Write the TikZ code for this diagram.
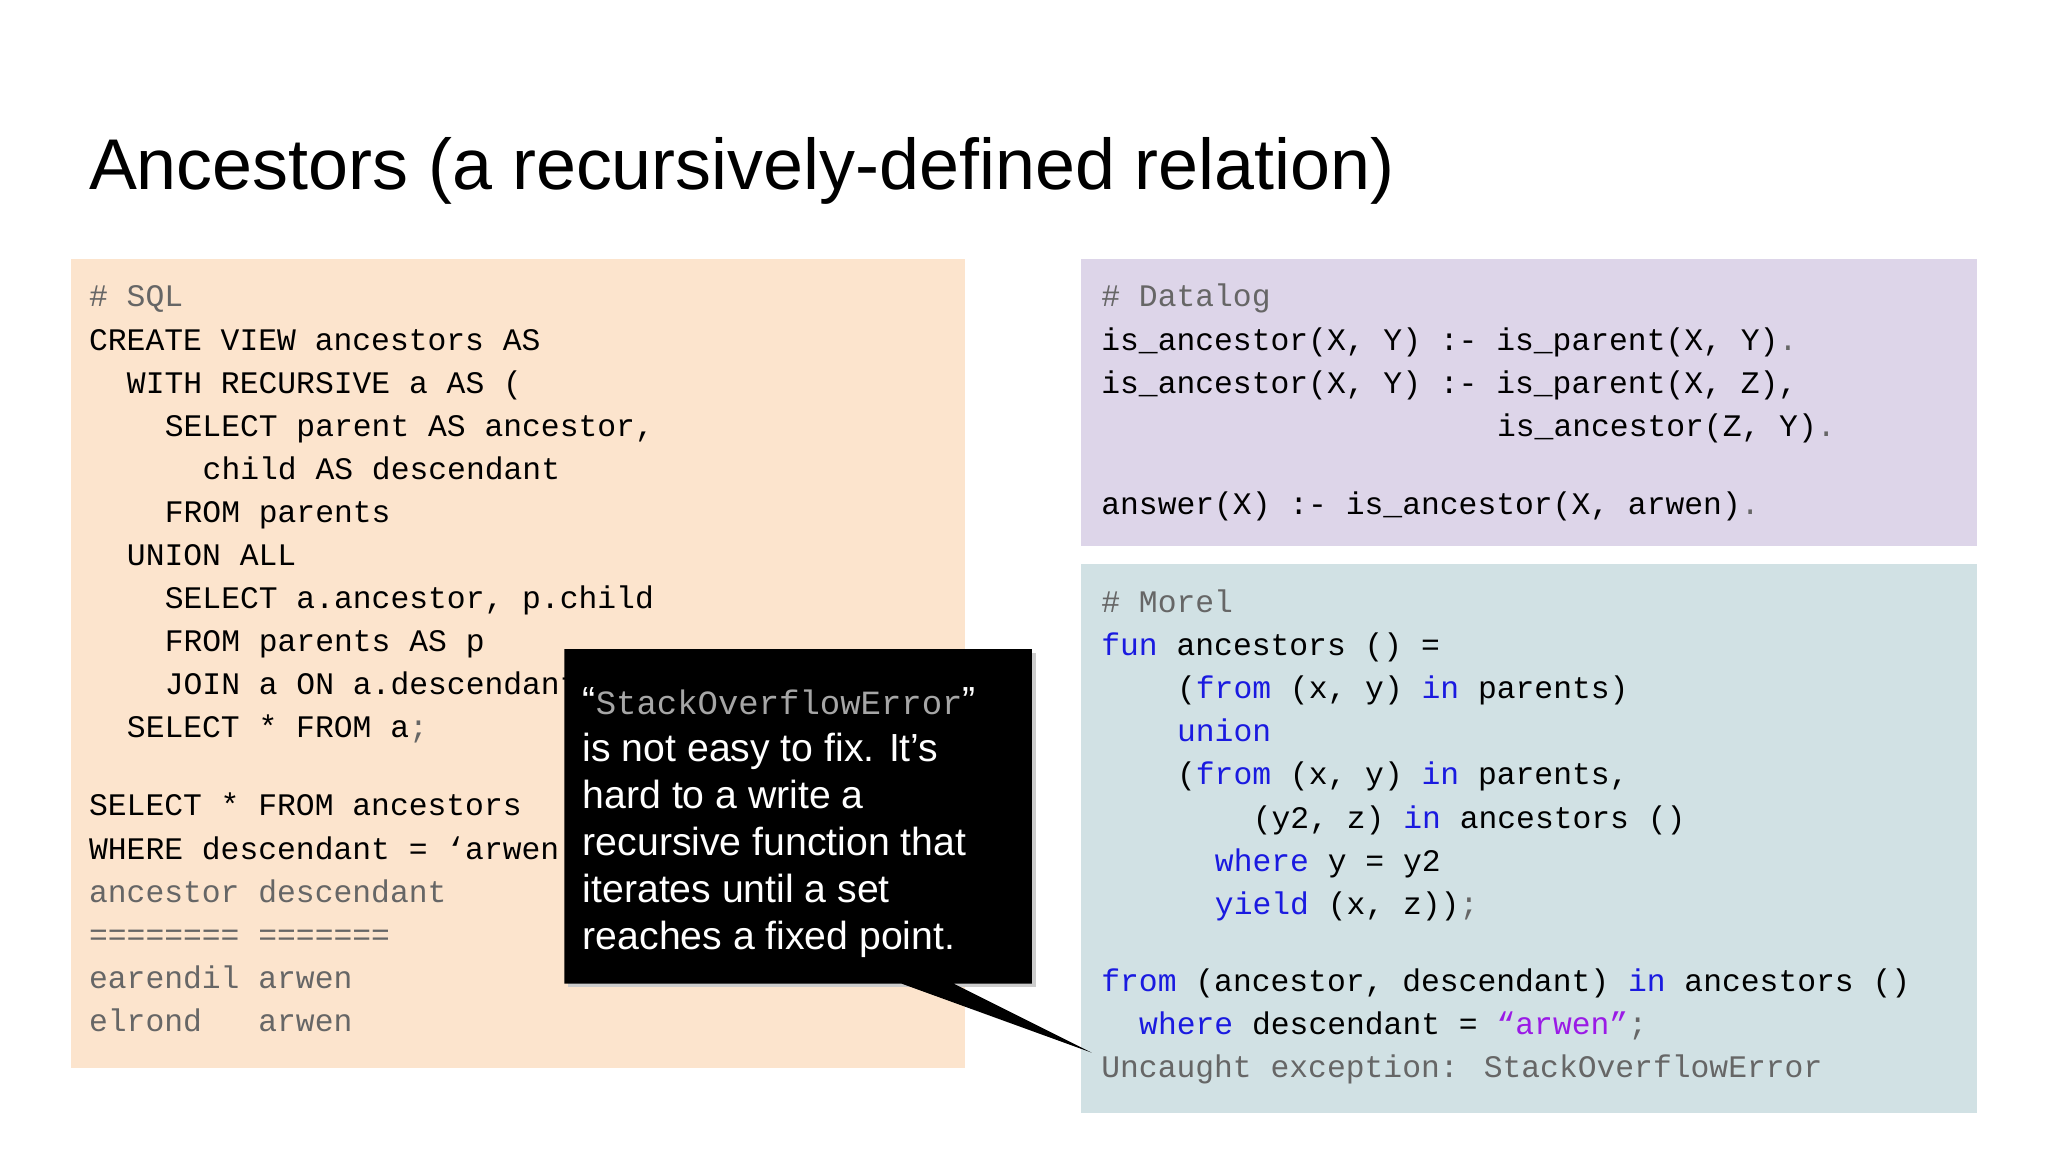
\documentclass[tikz,border=0pt]{standalone}
\usepackage{fontspec}
\setmainfont{Liberation Sans}
\newfontfamily\cf{Liberation Mono}[WordSpace={1,0,0}]
\definecolor{sqlbg}{HTML}{FCE4CD}
\definecolor{dlbg}{HTML}{DDD5E9}
\definecolor{mobg}{HTML}{D1E1E4}
\definecolor{kw}{HTML}{1A1AE0}
\definecolor{gr}{HTML}{666666}
\definecolor{pu}{HTML}{9A1AE6}
\newcommand{\K}[1]{\textcolor{kw}{#1}}
\newcommand{\G}[1]{\textcolor{gr}{#1}}
\tikzset{code/.style={anchor=base west,inner sep=0pt,font=\cf\fontsize{24}{28}\selectfont},
 call/.style={anchor=base west,inner sep=0pt,text=white,font=\fontsize{30}{34}\selectfont}}
\begin{document}
\begin{tikzpicture}[x=1pt,y=1pt]
\useasboundingbox (0,0) rectangle (1568,-882);
\fill[white] (0,0) rectangle (1568,-882);
\node[anchor=base west,inner sep=0pt,font=\fontsize{55}{60}\selectfont] (title) at (68,-145) {Ancestors (a recursively-defined relation)};
\fill[sqlbg] (54,-198) rectangle (739,-818);
\fill[dlbg] (828,-198) rectangle (1514,-418);
\fill[mobg] (828,-432) rectangle (1514,-852);
% SQL
\node[code] (s0) at (68,-235) {\G{\# SQL}};
\node[code] (s1) at (68,-268) {CREATE VIEW ancestors AS};
\node[code] (s2) at (97,-301) {WITH RECURSIVE a AS (};
\node[code] (s3) at (126,-334) {SELECT parent AS ancestor,};
\node[code] (s4) at (155,-367) {child AS descendant};
\node[code] (s5) at (126,-400) {FROM parents};
\node[code] (s6) at (97,-433) {UNION ALL};
\node[code] (s7) at (126,-466) {SELECT a.ancestor, p.child};
\node[code] (s8) at (126,-499) {FROM parents AS p};
\node[code] (s9) at (126,-532) {JOIN a ON a.descendant};
\node[code] (s10) at (97,-565) {SELECT * FROM a\G{;}};
\node[code] (s11) at (68,-624) {SELECT * FROM ancestors};
\node[code] (s12) at (68,-658) {WHERE descendant = ‘arwen’};
\node[code] (s13) at (68,-691) {\G{ancestor descendant}};
\node[code] (s14) at (68,-724) {\G{======== =======}};
\node[code] (s15) at (68,-757) {\G{earendil arwen}};
\node[code] (s16) at (68,-790) {\G{elrond\ \ \ arwen}};
% Datalog
\node[code] (d0) at (843,-235) {\G{\# Datalog}};
\node[code] (d1) at (843,-268) {is\_ancestor(X, Y) :- is\_parent(X, Y)\G{.}};
\node[code] (d2) at (843,-301) {is\_ancestor(X, Y) :- is\_parent(X, Z),};
\node[code] (d3) at (1146,-334) {is\_ancestor(Z, Y)\G{.}};
\node[code] (d4) at (843,-394) {answer(X) :- is\_ancestor(X, arwen)\G{.}};
% Morel
\node[code] (m0) at (843,-469) {\G{\# Morel}};
\node[code] (m1) at (843,-502) {\K{fun} ancestors () =};
\node[code] (m2) at (901,-535) {(\K{from} (x, y) \K{in} parents)};
\node[code] (m3) at (901,-568) {\K{union}};
\node[code] (m4) at (901,-601) {(\K{from} (x, y) \K{in} parents,};
\node[code] (m5) at (959,-634) {(y2, z) \K{in} ancestors ()};
\node[code] (m6) at (930,-667) {\K{where} y = y2};
\node[code] (m7) at (930,-700) {\K{yield} (x, z))\G{;}};
\node[code] (m8) at (843,-759) {\K{from} (ancestor, descendant) \K{in} ancestors ()};
\node[code] (m9) at (872,-792) {\K{where} descendant = \textcolor{pu}{“arwen”}\G{;}};
\node[code] (m10) at (843,-825) {\G{Uncaught exception: StackOverflowError}};
% callout
\fill[gray!40] (435,-500) rectangle (793,-756);
\fill[black] (432,-497) -- (790,-497) -- (790,-753) -- (730,-753) -- (836,-806) -- (690,-753) -- (432,-753) -- cycle;
\node[call] (c1) at (446,-547) {“\textcolor{gray!70}{\cf\fontsize{26}{30}\selectfont StackOverflowError}”};
\node[call] (c2) at (446,-583) {is not easy to fix. It’s};
\node[call] (c3) at (446,-619) {hard to a write a};
\node[call] (c4) at (446,-655) {recursive function that};
\node[call] (c5) at (446,-691) {iterates until a set};
\node[call] (c6) at (446,-727) {reaches a fixed point.};
\end{tikzpicture}
\end{document}
